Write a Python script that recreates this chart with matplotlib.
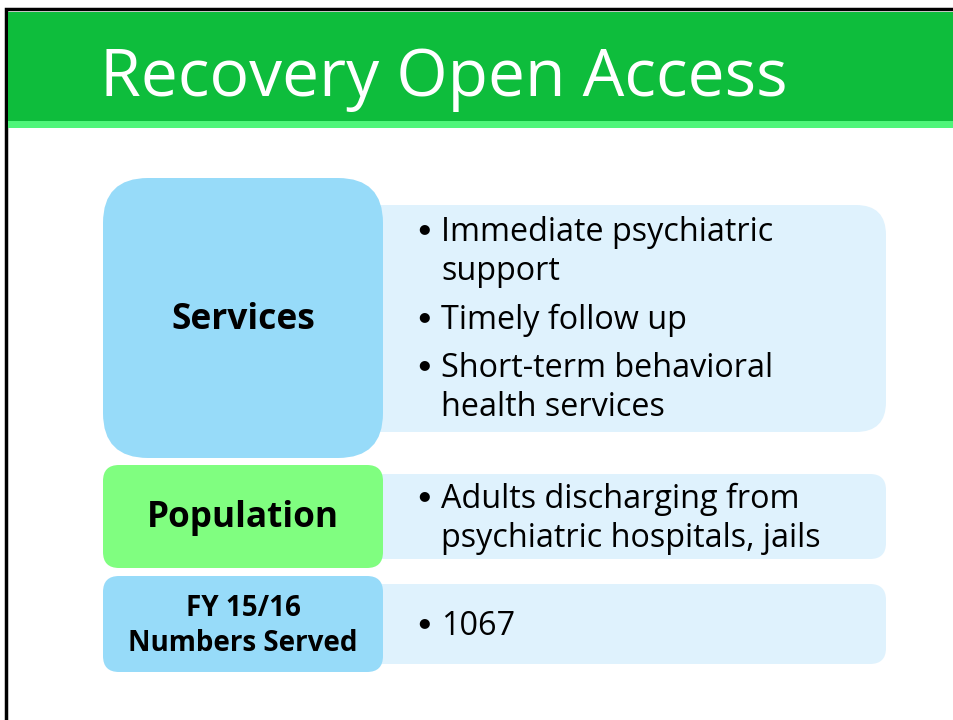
import matplotlib.pyplot as plt
from matplotlib.patches import FancyBboxPatch, Rectangle

title = "Recovery Open Access"
labels = ["Services", "Population", "FY 15/16\nNumbers Served"]
bullets = [
    [["Immediate psychiatric", "support"], ["Timely follow up"], ["Short-term behavioral", "health services"]],
    [["Adults discharging from", "psychiatric hospitals, jails"]],
    [["1067"]],
]
label_colors = ["#97dbf9", "#80fe80", "#97dbf9"]
panel_color = "#dff2fd"

# layout in pixels: (left box top, bottom), (panel top, bottom), corner radius
rows = [
    ((178, 458), (205, 432), 45),
    ((465, 568), (474, 559), 16),
    ((576, 672), (584, 664), 16),
]
# baseline of first line of each bullet
bullet_y = [[241, 329, 377], [508], [635]]
line_gap = 39
label_size = [25.5, 25.3, 20]

plt.rcParams['font.family'] = ['Open Sans', 'DejaVu Sans']

fig = plt.figure(figsize=(9.54, 7.2), dpi=100)
ax = fig.add_axes([0, 0, 1, 1])
ax.set_xlim(0, 954)
ax.set_ylim(720, 0)
ax.axis('off')

# slide frame and header
ax.add_patch(Rectangle((6, 9), 960, 720, facecolor='white', edgecolor='black', lw=2.5))
ax.add_patch(Rectangle((8, 12), 960, 109, facecolor='#0ebd3c', edgecolor='none'))
ax.add_patch(Rectangle((8, 121), 960, 7, facecolor='#4ff57a', edgecolor='none'))
ax.text(100, 96, title, color='white', fontsize=47.5, va='baseline', ha='left')

for i, ((t, b), (pt, pb), r) in enumerate(rows):
    # light panel behind
    pr = min(r, 30)
    ax.add_patch(FancyBboxPatch((300 + pr, pt + pr), 886 - 300 - 2 * pr, pb - pt - 2 * pr,
                                boxstyle=f"round,pad={pr}", facecolor=panel_color, edgecolor='none'))
    ax.add_patch(FancyBboxPatch((103 + r, t + r), 280 - 2 * r, b - t - 2 * r,
                                boxstyle=f"round,pad={r}", facecolor=label_colors[i], edgecolor='none'))
    ax.text(243, (t + b) / 2 + 2, labels[i], fontsize=label_size[i], fontweight='bold',
            ha='center', va='center', linespacing=1.3)
    for item, y in zip(bullets[i], bullet_y[i]):
        ax.text(424, y - 12, "\u25cf", fontsize=9.5, ha='center', va='center', family='DejaVu Sans')
        for k, line in enumerate(item):
            ax.text(441, y + k * line_gap, line, fontsize=23.3, ha='left', va='baseline')

fig.savefig('out.png', dpi=100)
